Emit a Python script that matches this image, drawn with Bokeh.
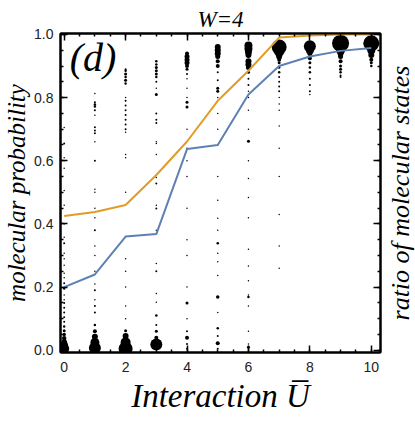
import math
from bokeh.plotting import figure
from bokeh.layouts import row
from bokeh.models import (Range1d, LinearAxis, FixedTicker, NumeralTickFormatter, Label,
                          CustomJSTickFormatter)
from bokeh.core.properties import value
from bokeh.embed import file_html
from bokeh.resources import INLINE

# ---------------- data ----------------
U = [0, 1, 2, 3, 4, 5, 6, 7, 8, 9, 10]
molecular_probability = [0.20, 0.24, 0.36, 0.368, 0.637, 0.65, 0.81, 0.90, 0.93, 0.948, 0.957]
ratio_molecular_states = [0.425, 0.438, 0.46, 0.555, 0.661, 0.79, 0.885, 0.99, 0.997, 1.0, 1.0]

# scatter of states: per U value, y positions and marker diameters
dot_y = [
    [0.005, 0.014, 0.025, 0.038, 0.05, 0.062, 0.075, 0.09, 0.105, 0.12, 0.135, 0.15, 0.16, 0.175, 0.196,
     0.212, 0.23, 0.244, 0.269, 0.29, 0.307, 0.339, 0.358, 0.40, 0.459, 0.506, 0.576, 0.60, 0.61, 0.655, 0.705],
    [0.007, 0.025, 0.043, 0.06, 0.08, 0.12, 0.14, 0.16, 0.19, 0.21, 0.25, 0.30, 0.33, 0.38, 0.42,
     0.45, 0.50, 0.51, 0.60, 0.66, 0.687, 0.696, 0.706, 0.744, 0.76, 0.772, 0.778, 0.785, 0.813],
    [0.005, 0.025, 0.045, 0.062, 0.1, 0.14, 0.2, 0.25, 0.29, 0.36, 0.5, 0.61, 0.62, 0.69, 0.70,
     0.715, 0.73, 0.745, 0.76, 0.775, 0.79, 0.80, 0.845, 0.855, 0.865, 0.875, 0.885, 0.89],
    [0.018, 0.04, 0.06, 0.08, 0.11, 0.152, 0.18, 0.25, 0.275, 0.38, 0.449, 0.459, 0.528, 0.547, 0.62,
     0.655, 0.66, 0.72, 0.73, 0.75, 0.81, 0.83, 0.85, 0.865, 0.875, 0.885, 0.895, 0.905, 0.915],
    [0.005, 0.02, 0.04, 0.06, 0.1, 0.15, 0.2, 0.3, 0.35, 0.45, 0.55, 0.6, 0.64, 0.7, 0.77,
     0.785, 0.80, 0.83, 0.86, 0.875, 0.89, 0.90, 0.91, 0.92, 0.93, 0.94],
    [0.005, 0.022, 0.045, 0.07, 0.12, 0.169, 0.237, 0.28, 0.307, 0.339, 0.38, 0.418, 0.475, 0.55, 0.65,
     0.70, 0.75, 0.80, 0.82, 0.83, 0.855, 0.88, 0.90, 0.915, 0.93, 0.94, 0.95, 0.96],
    [0.01, 0.02, 0.06, 0.14, 0.169, 0.175, 0.22, 0.267, 0.32, 0.42, 0.484, 0.544, 0.6, 0.662, 0.7,
     0.76, 0.80, 0.82, 0.84, 0.86, 0.88, 0.895, 0.905, 0.915, 0.935, 0.945, 0.955, 0.965],
    [0.26, 0.33, 0.43, 0.55, 0.64, 0.71, 0.76, 0.78, 0.80, 0.82, 0.835, 0.85, 0.865, 0.88, 0.895,
     0.91, 0.92, 0.93, 0.945, 0.96],
    [0.81, 0.82, 0.84, 0.86, 0.88, 0.895, 0.91, 0.925, 0.94, 0.95, 0.963],
    [0.865, 0.87, 0.88, 0.89, 0.90, 0.915, 0.93, 0.94, 0.95, 0.972],
    [0.90, 0.91, 0.92, 0.935, 0.95, 0.972],
]
dot_size = [
    [10, 8, 6, 4.5, 3.5, 3, 2.5, 2, 2, 2, 2, 2, 1.5, 1.5, 2.5,
     2, 1.5, 1.5, 1.5, 1.5, 1.5, 2, 1.5, 1.5, 1.5, 1.5, 1.5, 1.5, 1.5, 2, 1.5],
    [12, 9, 6, 4, 2.5, 2, 2, 1.5, 2, 1.5, 1.5, 1.5, 1.5, 2, 1.5,
     1.5, 1.5, 1.5, 2, 1.5, 2, 2, 2, 1.5, 2, 2.5, 2.5, 2, 1.5],
    [14, 10, 6, 3, 1.5, 1.5, 1.5, 1.5, 1.5, 1.5, 1.5, 1.5, 1.5, 1.5, 2,
     2, 2, 2, 2, 2, 2, 1.5, 2.5, 3, 2.5, 3, 2.5, 2],
    [12, 4, 3, 2, 2.5, 1.5, 1.5, 2, 1.5, 1.5, 2, 1.5, 2, 1.5, 1.5,
     1.5, 1.5, 2, 2, 2, 3, 1.5, 2, 2.5, 3, 3, 3, 2.5, 2.5],
    [2, 2, 4, 2, 1.5, 3, 1.5, 1.5, 1.5, 1.5, 1.5, 1.5, 1.5, 1.5, 3,
     3, 1.5, 1.5, 1.5, 2, 3, 4, 5, 5, 5, 4],
    [2, 4, 2, 2.5, 1.5, 3.5, 1.5, 1.5, 1.5, 2.5, 1.5, 1.5, 1.5, 1.5, 1.5,
     1.5, 1.5, 1.5, 3, 3, 2, 2, 4, 4, 5, 6, 6, 6],
    [3, 1.5, 1.5, 1.5, 2.5, 1.5, 1.5, 1.5, 1.5, 1.5, 1.5, 1.5, 1.5, 3, 1.5,
     1.5, 1.5, 1.5, 2, 2, 3, 5, 6, 6, 6, 7, 8, 8],
    [1.5, 1.5, 1.5, 1.5, 1.5, 1.5, 1.5, 1.5, 1.5, 2, 2, 2, 2, 2.5, 2.5,
     3, 4, 6, 10, 15],
    [1.5, 2, 2, 2, 2.5, 2.5, 3, 4, 5, 8, 12],
    [2, 2, 2.5, 3, 3, 4, 5, 6, 9, 17],
    [2.5, 3, 4, 6, 8, 16],
]

x_ticks = [0, 2, 4, 6, 8, 10]
y_ticks = [0.0, 0.2, 0.4, 0.6, 0.8, 1.0]
right_title = "ratio of molecular states"

# ---------------- figure ----------------
SERIF = "Liberation Serif"
SANS = "Liberation Sans"

p = figure(width=382, height=422, x_range=Range1d(-0.12, 10.3), y_range=Range1d(-0.007, 1.003),
           output_backend="svg", toolbar_location=None,
           min_border_left=60, min_border_right=2, min_border_top=33, min_border_bottom=70)
p.grid.visible = False
p.outline_line_color = "black"
p.outline_line_width = 2
p.background_fill_color = "white"

p.title.text = "W=4"
p.title.align = "center"
p.title.text_font = SERIF
p.title.text_font_style = "italic"
p.title.text_font_size = "23px"
p.title.text_color = "black"
p.title.standoff = 3

p.add_layout(LinearAxis(), "above")
p.add_layout(LinearAxis(), "right")

x_minor = [i * 0.5 for i in range(21)]
y_minor = [i * 0.05 for i in range(21)]

for ax in p.xaxis:
    ax.ticker = FixedTicker(ticks=x_ticks, minor_ticks=x_minor)
for ax in p.yaxis:
    ax.ticker = FixedTicker(ticks=y_ticks, minor_ticks=y_minor)

for ax in p.axis:
    ax.axis_line_color = "black"
    ax.axis_line_width = 2
    ax.major_tick_in = 7
    ax.major_tick_out = 0
    ax.minor_tick_in = 3
    ax.minor_tick_out = 0
    ax.major_tick_line_width = 1.5
    ax.minor_tick_line_width = 1.5
    ax.major_tick_line_color = "black"
    ax.minor_tick_line_color = "black"
    ax.major_label_text_font = SANS
    ax.major_label_text_font_size = "14px"
    ax.major_label_text_color = "#222222"
    ax.axis_label_text_font = SERIF
    ax.axis_label_text_font_style = "italic"
    ax.axis_label_text_color = "black"

bottom = p.below[0]
left = p.left[0]
top = p.above[0]
right = p.right[0]

bottom.formatter = NumeralTickFormatter(format="0")
bottom.major_label_standoff = 9
bottom.axis_label = "Interaction U\u0305"
bottom.axis_label_text_font_size = "33px"
bottom.axis_label_standoff = 3

left.formatter = NumeralTickFormatter(format="0.0")
left.major_label_standoff = 7
left.axis_label = "molecular probability"
left.axis_label_text_font_size = "25px"
left.axis_label_standoff = 1

blank = CustomJSTickFormatter(code="return ''")
top.formatter = blank
top.major_label_text_font_size = "1px"
top.major_label_standoff = 0
right.formatter = blank
right.major_label_text_font_size = "1px"
right.major_label_standoff = 0

# scatter of states
xs, ys, ss = [], [], []
for u, yl, sl in zip(U, dot_y, dot_size):
    for yv, sv in zip(yl, sl):
        xs.append(u)
        ys.append(yv)
        ss.append(sv)
p.scatter(xs, ys, size=ss, color="black", line_width=0)

p.line(U, ratio_molecular_states, line_color="#E19C24", line_width=2)
p.line(U, molecular_probability, line_color="#5E81B5", line_width=2)

p.add_layout(Label(x=0.18, y=0.855, text="(d)", text_font=SERIF, text_font_style="italic",
                   text_font_size="40px", text_color="black"))

# narrow strip on the right that carries the right-hand axis title (reads bottom to top)
q = figure(width=33, height=422, x_range=Range1d(0, 1), y_range=Range1d(0, 1),
           output_backend="svg", toolbar_location=None,
           x_axis_location=None, y_axis_location=None, min_border=0)
q.grid.visible = False
q.outline_line_color = None
q.text(x=[0.55], y=[0.5], text=[right_title], angle=math.pi / 2,
       text_align="center", text_baseline="middle",
       text_font=value(SERIF), text_font_style="italic",
       text_font_size="26px", text_color="black")

layout = row(p, q)
open("out.html", "w").write(file_html(layout, INLINE))
